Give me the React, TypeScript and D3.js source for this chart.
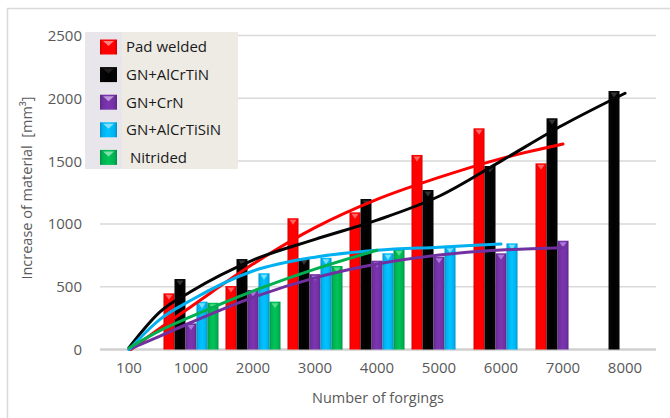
import React from "react";
import * as d3 from "d3";

const categories = ["100", "1000", "2000", "3000", "4000", "5000", "6000", "7000", "8000"];
const seriesNames = ["Pad welded", "GN+AlCrTiN", "GN+CrN", "GN+AlCrTiSiN", " Nitrided"];
const seriesColors = ["#FF0000", "#050505", "#7030A0", "#00B0F0", "#00B050"];

const padWelded = [0, 447, 505, 1045, 1092, 1549, 1761, 1482, null];
const gnAlCrTiN = [0, 561, 720, 725, 1198, 1270, 1461, 1841, 2058];
const gnCrN = [0, 208, 474, 600, 707, 739, 766, 866, null];
const gnAlCrTiSiN = [0, 381, 607, 730, 766, 819, 845, null, null];
const nitrided = [0, 372, 381, 665, 798, null, null, null, null];

// trendline samples: [category position, value]
const trendPadWelded: [number, number][] = [[0.03, 0], [0.5, 169], [1, 341], [2, 680], [3, 970], [4, 1195], [5, 1370], [6, 1520], [7, 1636]];
const trendGnAlCrTiN: [number, number][] = [[0, 15], [0.5, 300], [1, 462], [2, 712], [3, 877], [4, 1030], [5, 1220], [6, 1500], [7, 1787], [8, 2040]];
const trendGnCrN: [number, number][] = [[0, 0], [0.5, 107], [1, 215], [2, 415], [3, 570], [4, 680], [5, 752], [6, 792], [7, 810]];
const trendGnAlCrTiSiN: [number, number][] = [[0, 0], [0.5, 240], [1, 392], [2, 625], [3, 735], [4, 790], [5, 815], [6, 840]];
const trendNitrided: [number, number][] = [[0, 12], [0.5, 150], [1, 261], [2, 465], [3, 640], [4, 790]];

const yTicks = [0, 500, 1000, 1500, 2000, 2500];

const seriesValues = [padWelded, gnAlCrTiN, gnCrN, gnAlCrTiSiN, nitrided];
const trendValues = [trendPadWelded, trendGnAlCrTiN, trendGnCrN, trendGnAlCrTiSiN, trendNitrided];

const W = 670;
const H = 418;
const FONT = "'Open Sans', 'DejaVu Sans', sans-serif";

export default function App() {
  const x0 = d3
    .scaleBand<string>()
    .domain(categories)
    .range([98, 656])
    .paddingInner(0.113)
    .paddingOuter(0.056);
  const x1 = d3
    .scaleBand<string>()
    .domain(seriesNames)
    .range([0, x0.bandwidth()]);
  const y = d3.scaleLinear().domain([0, 2500]).range([349.5, 35.5]);
  const cx = (c: string) => (x0(c) as number) + x0.bandwidth() / 2;
  const xi = d3
    .scaleLinear()
    .domain([0, categories.length - 1])
    .range([cx(categories[0]), cx(categories[categories.length - 1])]);

  const line = d3
    .line<[number, number]>()
    .x((d) => xi(d[0]))
    .y((d) => y(d[1]))
    .curve(d3.curveMonotoneX);

  const bw = x1.bandwidth();

  return (
    <svg
      width={W}
      height={H}
      style={{ position: "fixed", left: 0, top: 0, background: "#fff" }}
      fontFamily={FONT}
    >
      <defs>
        {seriesColors.map((c, i) => {
          const dark = d3.color(c)!.darker(0.6).formatHex();
          const light = d3.color(c)!.brighter(0.3).formatHex();
          return (
            <linearGradient id={`g${i}`} key={i} x1="0" x2="1" y1="0" y2="0">
              <stop offset="0" stopColor={dark} />
              <stop offset="0.15" stopColor={c} />
              <stop offset="0.5" stopColor={i === 1 ? "#000" : light} />
              <stop offset="0.85" stopColor={c} />
              <stop offset="1" stopColor={dark} />
            </linearGradient>
          );
        })}
      </defs>
      <rect x={7.5} y={8.5} width={700} height={450} fill="none" stroke="#D9D9D9" strokeWidth={1.5} />

      {/* gridlines */}
      {yTicks.map((t) => (
        <line
          key={t}
          x1={100}
          x2={656}
          y1={y(t)}
          y2={y(t)}
          stroke={t === 0 ? "#D0D0D0" : "#D9D9D9"}
          strokeWidth={t === 0 ? 2.5 : 1.5}
        />
      ))}
      {yTicks.map((t) => (
        <text
          key={t}
          x={82}
          y={y(t)}
          dy="0.36em"
          textAnchor="end"
          fontSize={15}
          fill="#595959"
        >
          {t}
        </text>
      ))}
      {categories.map((c) => (
        <text key={c} x={cx(c)} y={373} textAnchor="middle" fontSize={15} fill="#595959">
          {c}
        </text>
      ))}

      {/* bars */}
      {seriesValues.map((vals, si) =>
        vals.map((v, ci) => {
          if (v === null || v === 0) return null;
          const bx = (x0(categories[ci]) as number) + (x1(seriesNames[si]) as number);
          const top = y(v);
          const h = y(0) - top;
          const triColor = si === 1 ? "#3a3a3a" : si === 2 ? "#B07FE0" : si === 3 ? "#7FE3FF" : si === 4 ? "#5BE08F" : "#FF7070";
          return (
            <g key={`${si}-${ci}`}>
              <rect x={bx} y={top} width={bw} height={h} fill={`url(#g${si})`} />
              <path
                d={`M${bx + 2},${top + 1.5} L${bx + bw - 2},${top + 1.5} L${bx + bw / 2},${top + 6.5} Z`}
                fill={triColor}
                opacity={0.9}
              />
            </g>
          );
        })
      )}

      {/* trendlines */}
      {trendValues.map((vals, si) => (
        <path
          key={si}
          d={line(vals) as string}
          fill="none"
          stroke={seriesColors[si]}
          strokeWidth={3}
          strokeLinecap="round"
        />
      ))}

      {/* legend */}
      <rect x={85} y={32} width={153} height={137} fill="#EDEBE4" />
      <rect x={85} y={32} width={37} height={137} fill="#E8E6EA" />
      {seriesNames.map((n, i) => {
        const cy = 47 + i * 27.6;
        return (
          <g key={n}>
            <rect x={100} y={cy - 7.5} width={17} height={15} fill={`url(#g${i})`} />
            <path
              d={`M${103},${cy - 6} L${114},${cy - 6} L${108.5},${cy - 1} Z`}
              fill={i === 1 ? "#3a3a3a" : "#ffffff"}
              opacity={0.5}
            />
            <text x={126} y={cy} dy="0.36em" fontSize={15} fill="#1a1a1a" style={{ whiteSpace: "pre" }}>
              {n}
            </text>
          </g>
        );
      })}

      {/* axis titles */}
      <text
        transform="translate(27,188) rotate(-90)"
        textAnchor="middle"
        dy="0.36em"
        fontSize={14.5}
        fill="#595959"
        style={{ whiteSpace: "pre" }}
      >
        {"Increase of material  [mm³]"}
      </text>
      <text x={378} y={398} dy="0.36em" textAnchor="middle" fontSize={14.5} fill="#595959">
        Number of forgings
      </text>
    </svg>
  );
}
